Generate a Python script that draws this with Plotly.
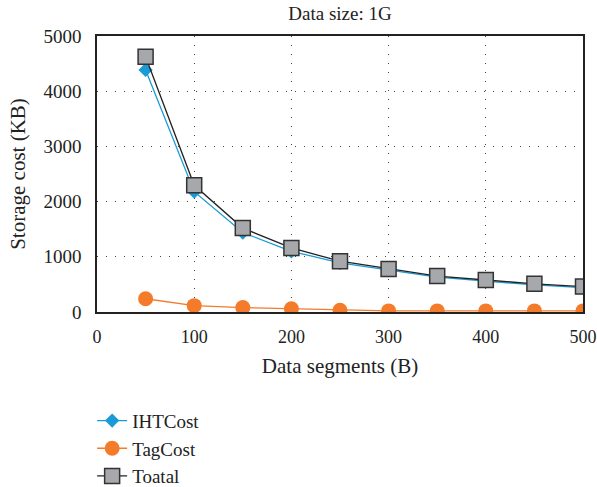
import plotly.graph_objects as go

segments = [50, 100, 150, 200, 250, 300, 350, 400, 450, 500]
iht_cost = [4385, 2180, 1440, 1100, 890, 760, 630, 560, 490, 440]
tag_cost = [240, 115, 80, 60, 30, 20, 20, 20, 20, 20]
total_cost = [4625, 2295, 1520, 1160, 920, 780, 650, 580, 510, 460]

FONT = "Liberation Serif"

fig = go.Figure()
fig.add_trace(go.Scatter(x=segments, y=iht_cost, name="IHTCost", mode="lines+markers",
                         line=dict(color="#1a9bd7", width=1.3),
                         marker=dict(symbol="diamond", size=11, color="#1a9bd7")))
fig.add_trace(go.Scatter(x=segments, y=tag_cost, name="TagCost", mode="lines+markers",
                         line=dict(color="#f47b2a", width=1.3),
                         marker=dict(symbol="circle", size=15, color="#f47b2a")))
fig.add_trace(go.Scatter(x=segments, y=total_cost, name="Toatal", mode="lines+markers",
                         line=dict(color="#222222", width=1.3),
                         marker=dict(symbol="square", size=15, color="#a7a8ac",
                                     line=dict(color="#333333", width=1.5))))

fig.update_layout(
    width=597, height=487,
    margin=dict(l=97, r=14, t=36, b=175, autoexpand=False),
    paper_bgcolor="white", plot_bgcolor="white",
    font=dict(family=FONT, size=20, color="#222222"),
    title=dict(text="Data size: 1G", x=0.5, xref="paper", xanchor="center",
               y=0.986, yanchor="top", yref="container",
               font=dict(family=FONT, size=19, color="#222222")),
    showlegend=True,
    legend=dict(x=-0.01, xanchor="left", y=-0.325, yanchor="top",
                font=dict(family=FONT, size=19, color="#222222"),
                bgcolor="rgba(0,0,0,0)", tracegroupgap=0),
)
fig.update_xaxes(range=[0, 500], tickvals=[0, 100, 200, 300, 400, 500],
                 showline=True, linecolor="#222222", linewidth=1.5, mirror=True,
                 showgrid=True, gridcolor="#444444", griddash="1px,8px", gridwidth=1.3,
                 zeroline=False, ticks="", ticklabelstandoff=8, automargin=False,
                 ticklabeloverflow="allow",
                 tickfont=dict(family=FONT, size=18),
                 title=dict(text="Data segments (B)", standoff=12, font=dict(size=21)))
fig.update_yaxes(range=[0, 5000], tickvals=[0, 1000, 2000, 3000, 4000, 5000],
                 showline=True, linecolor="#222222", linewidth=1.5, mirror=True,
                 showgrid=True, gridcolor="#444444", griddash="1px,8px", gridwidth=1.3,
                 zeroline=False, ticks="", ticklabelstandoff=10, automargin=False,
                 ticklabeloverflow="allow",
                 tickfont=dict(family=FONT, size=19),
                 title=dict(text="Storage cost (KB)", standoff=12, font=dict(size=21)))

fig.write_html("out.html", config={"displayModeBar": False},
               post_script="document.body.style.margin='0px';")
